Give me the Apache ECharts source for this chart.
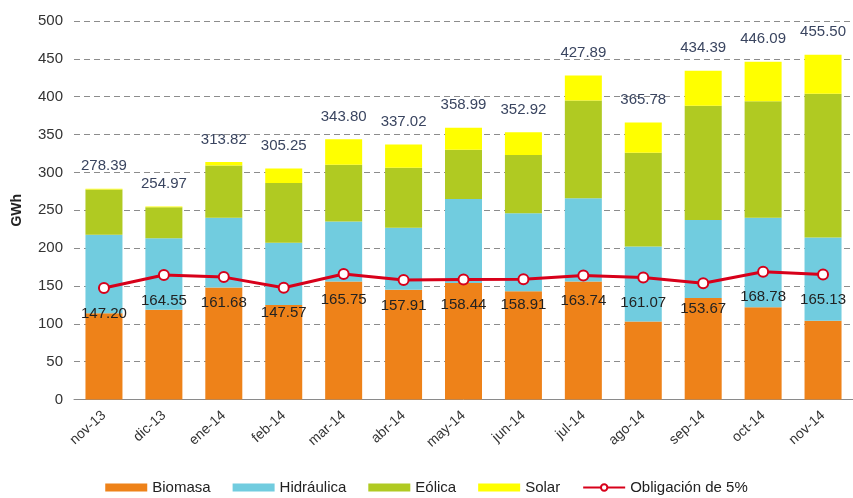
<!DOCTYPE html>
<html>
<head>
<meta charset="utf-8">
<script src="https://cdn.jsdelivr.net/npm/echarts@6/dist/echarts.min.js"></script>
<style>
  html, body { margin: 0; padding: 0; background: #fff; }
  #main { width: 853px; height: 498px; }
</style>
</head>
<body>
<div id="main"></div>
<script>
// meses
var meses = ['nov-13', 'dic-13', 'ene-14', 'feb-14', 'mar-14', 'abr-14', 'may-14',
             'jun-14', 'jul-14', 'ago-14', 'sep-14', 'oct-14', 'nov-14'];

// GWh por tecnologia
var biomasa    = [114, 118.5, 148, 125, 156, 145, 154, 143, 156, 103, 134, 122, 104];
var hidraulica = [103.5, 94.5, 92, 82, 79, 82, 111, 103, 110, 99, 103, 118, 110];
var eolica     = [60, 41, 69, 79, 75, 79, 65, 77, 129, 124, 151, 154, 190];
var solar      = [0.9, 1.0, 4.8, 19.3, 33.8, 31.0, 29.0, 29.9, 32.9, 39.8, 46.4, 52.1, 51.5];

// totales y obligacion
var totales    = ['278.39', '254.97', '313.82', '305.25', '343.80', '337.02', '358.99',
                  '352.92', '427.89', '365.78', '434.39', '446.09', '455.50'];
var obligacion = [147.20, 164.55, 161.68, 147.57, 165.75, 157.91, 158.44,
                  158.91, 163.74, 161.07, 153.67, 168.78, 165.13];

var ticksY = [0, 50, 100, 150, 200, 250, 300, 350, 400, 450, 500];

var fuente = 'Liberation Sans, Arial, sans-serif';

var myChart = echarts.init(document.getElementById('main'));

function barra(nombre, datos, color) {
    return {
        name: nombre,
        type: 'bar',
        stack: 'total',
        barWidth: 37,
        data: datos,
        itemStyle: { color: color },
        emphasis: { disabled: true }
    };
}

var solarSerie = barra('Solar', solar, '#FFFF00');
solarSerie.label = {
    show: true,
    position: 'top',
    distance: 15,
    fontFamily: fuente,
    fontSize: 15,
    color: '#3a4560',
    formatter: function (p) { return totales[p.dataIndex]; }
};

var option = {
    animation: false,
    textStyle: { fontFamily: fuente },
    grid: { left: 74, right: -7, top: 21, bottom: 98.5 },
    legend: {
        top: 480,
        left: 'center',
        padding: 0,
        itemWidth: 42,
        itemHeight: 8,
        itemGap: 22,
        textStyle: { fontFamily: fuente, fontSize: 15, color: '#222' },
        data: [
            { name: 'Biomasa', icon: 'rect' },
            { name: 'Hidráulica', icon: 'rect' },
            { name: 'Eólica', icon: 'rect' },
            { name: 'Solar', icon: 'rect' },
            { name: 'Obligación de 5%' }
        ]
    },
    xAxis: {
        type: 'category',
        data: meses,
        axisLine: { lineStyle: { color: '#8a8a8a', width: 1 } },
        axisTick: { show: false },
        axisLabel: {
            rotate: 42,
            margin: 14,
            fontSize: 14,
            color: '#333',
            fontFamily: fuente
        }
    },
    yAxis: {
        type: 'value',
        min: ticksY[0],
        max: ticksY[ticksY.length - 1],
        interval: 50,
        name: 'GWh',
        nameLocation: 'middle',
        nameGap: 50,
        nameRotate: 90,
        nameTextStyle: { fontWeight: 'bold', fontSize: 14, color: '#222', fontFamily: fuente },
        axisLine: { show: false },
        axisTick: { show: false },
        axisLabel: { fontSize: 15, color: '#333', margin: 11, fontFamily: fuente },
        splitLine: { lineStyle: { color: '#8c8c8c', type: [6, 4], width: 1 } }
    },
    series: [
        barra('Biomasa', biomasa, '#EE8219'),
        barra('Hidráulica', hidraulica, '#71CCDF'),
        barra('Eólica', eolica, '#B0CA22'),
        solarSerie,
        {
            name: 'Obligación de 5%',
            type: 'line',
            data: obligacion,
            symbol: 'circle',
            symbolSize: 10,
            z: 5,
            lineStyle: { color: '#D7001A', width: 3 },
            itemStyle: { color: '#ffffff', borderColor: '#D7001A', borderWidth: 2 },
            label: {
                show: true,
                position: 'bottom',
                distance: 12,
                fontSize: 15,
                color: '#222',
                fontFamily: fuente,
                formatter: function (p) { return p.value.toFixed(2); }
            },
            emphasis: { disabled: true }
        }
    ]
};

myChart.setOption(option);
</script>
</body>
</html>
